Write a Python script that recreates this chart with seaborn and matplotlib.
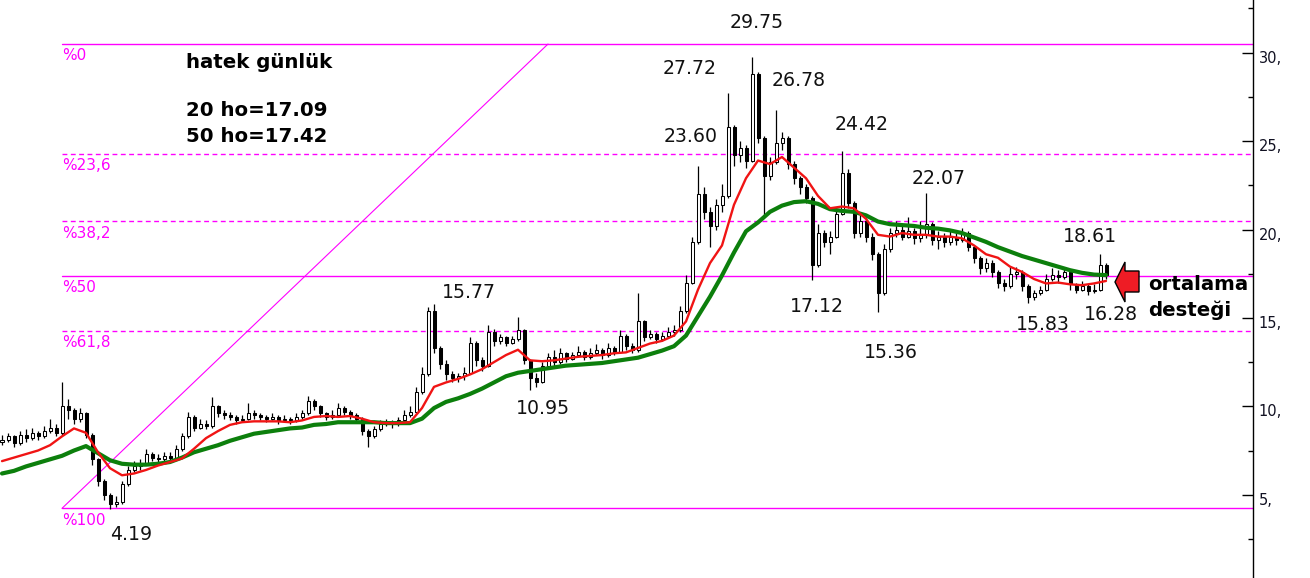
import numpy as np
import pandas as pd
import seaborn as sns
import matplotlib
matplotlib.use("Agg")
import matplotlib.pyplot as plt
from matplotlib.patches import Polygon
from matplotlib.transforms import ScaledTranslation

# ---------------- data ----------------
first_open = 8.0
closes = [
    8.1, 8.3, 7.9, 8.4, 8.2, 8.5, 8.3, 8.6, 8.8, 8.5,
    10.0, 9.8, 9.3, 9.6, 8.4, 7.0, 5.8, 5.0, 4.5, 4.6,
    5.6, 6.4, 6.6, 6.8, 7.3, 7.1, 7.0, 7.2, 7.1, 7.6,
    8.3, 9.4, 8.8, 9.0, 8.9, 10.0, 9.6, 9.5, 9.4, 9.2,
    9.3, 9.6, 9.5, 9.4, 9.3, 9.4, 9.2, 9.3, 9.2, 9.4,
    9.6, 10.3, 10.0, 9.6, 9.4, 9.5, 9.9, 9.7, 9.5, 9.3,
    8.6, 8.3, 8.7, 9.0, 9.1, 9.0, 9.2, 9.5, 9.7, 10.8,
    11.8, 15.4, 13.3, 12.4, 11.8, 11.6, 11.7, 11.9, 13.6, 12.6,
    12.3, 14.2, 13.7, 13.9, 13.6, 13.8, 14.3, 12.6, 11.6, 11.4,
    12.3, 12.8, 12.5, 13.0, 12.7, 12.9, 13.1, 12.8, 13.0, 13.2,
    12.9, 13.3, 13.1, 14.0, 13.4, 13.2, 14.8, 13.9, 14.1, 13.8,
    14.0, 14.2, 14.3, 15.4, 17.0, 19.3, 22.0, 21.0, 20.2, 21.4,
    21.9, 25.8, 24.2, 24.6, 23.9, 28.8, 25.2, 23.0, 23.8, 24.9,
    25.2, 23.7, 22.9, 22.4, 21.8, 18.0, 19.8, 19.3, 19.6, 20.9,
    23.2, 21.5, 19.8, 20.5, 19.6, 18.6, 16.4, 18.9, 19.8, 20.0,
    19.6, 19.9, 19.5, 19.7, 20.3, 19.4, 19.6, 19.3, 19.6, 19.4,
    19.8, 19.0, 18.4, 17.8, 18.1, 17.6, 17.0, 16.8, 17.5, 17.6,
    16.8, 16.2, 16.4, 16.6, 17.2, 17.4, 17.3, 17.6, 16.9, 16.6,
    16.8, 16.5, 16.6, 18.0, 17.4,
]
highs = [
    8.4, 8.5, 8.4, 8.6, 8.7, 8.8, 8.6, 8.9, 9.3, 9.0,
    11.4, 10.4, 9.9, 9.9, 9.7, 8.5, 7.1, 5.9, 5.1, 4.9,
    5.8, 6.6, 6.9, 7.0, 7.6, 7.4, 7.3, 7.4, 7.4, 7.8,
    8.5, 9.7, 9.5, 9.3, 9.2, 10.5, 10.1, 9.8, 9.7, 9.5,
    9.5, 10.2, 9.8, 9.6, 9.5, 9.6, 9.5, 9.5, 9.4, 9.6,
    9.8, 10.6, 10.4, 10.1, 9.7, 9.8, 10.2, 10.0, 9.8, 9.6,
    9.4, 8.7, 8.9, 9.2, 9.3, 9.2, 9.4, 9.8, 10.0, 11.1,
    12.2, 15.6, 15.77, 13.4, 12.6, 12.0, 11.9, 12.2, 13.9, 13.7,
    12.8, 14.6, 14.4, 14.1, 14.0, 14.0, 15.05, 14.4, 12.7, 11.9,
    12.5, 13.0, 13.2, 13.3, 13.1, 13.1, 13.4, 13.2, 13.3, 13.5,
    13.3, 13.6, 13.4, 14.3, 14.1, 13.6, 16.4, 14.9, 14.3, 14.2,
    14.2, 14.5, 14.6, 15.7, 17.4, 19.6, 23.6, 22.4, 21.3, 21.7,
    22.6, 27.72, 25.9, 25.0, 24.8, 29.75, 28.9, 25.3, 24.1, 26.78,
    25.5, 25.3, 23.9, 23.0, 22.6, 21.9, 20.3, 20.0, 19.9, 21.3,
    24.42, 23.4, 21.6, 20.9, 20.7, 19.8, 18.7, 19.2, 20.1, 20.5,
    20.3, 20.7, 20.1, 20.5, 22.07, 20.4, 19.9, 19.8, 19.9, 19.8,
    20.1, 19.9, 19.1, 18.5, 18.4, 18.3, 17.7, 17.2, 17.9, 17.9,
    17.7, 16.9, 16.6, 16.8, 17.5, 17.8, 17.7, 17.9, 17.7, 17.0,
    17.1, 16.9, 16.9, 18.61, 18.1,
]
lows = [
    7.8, 8.0, 7.7, 7.8, 8.0, 8.1, 8.1, 8.2, 8.5, 8.3,
    8.4, 9.3, 9.0, 9.1, 8.2, 6.7, 5.5, 4.7, 4.19, 4.3,
    4.5, 5.5, 6.3, 6.4, 6.7, 6.9, 6.8, 6.9, 6.9, 7.0,
    7.5, 8.2, 8.6, 8.7, 8.7, 8.8, 9.4, 9.3, 9.2, 9.0,
    9.1, 9.2, 9.3, 9.2, 9.1, 9.2, 9.0, 9.1, 9.0, 9.1,
    9.3, 9.5, 9.8, 9.4, 9.2, 9.3, 9.4, 9.5, 9.3, 9.1,
    8.4, 7.7, 8.2, 8.6, 8.9, 8.8, 8.9, 9.1, 9.4, 9.6,
    10.7, 11.7, 13.0, 12.1, 11.5, 11.4, 11.4, 11.5, 11.8, 12.3,
    12.0, 12.2, 13.4, 13.5, 13.4, 13.5, 13.7, 12.4, 10.95, 11.1,
    11.3, 12.2, 12.3, 12.4, 12.5, 12.6, 12.8, 12.6, 12.7, 12.9,
    12.7, 12.8, 12.9, 13.0, 13.2, 13.0, 13.1, 13.7, 13.8, 13.6,
    13.7, 13.9, 14.0, 14.2, 15.3, 16.9, 19.2, 20.6, 19.0, 20.0,
    21.0, 21.8, 23.6, 23.8, 23.5, 23.8, 24.9, 20.7, 22.8, 23.7,
    24.5, 23.4, 22.6, 22.0, 21.5, 17.12, 17.9, 19.0, 18.6, 19.5,
    20.8, 21.2, 19.5, 19.6, 19.3, 18.3, 15.36, 16.3, 18.7, 19.6,
    19.4, 19.5, 19.2, 19.3, 19.5, 19.1, 18.9, 19.0, 19.1, 19.1,
    19.3, 18.8, 18.1, 17.5, 17.6, 17.3, 16.7, 16.5, 16.7, 17.2,
    16.5, 15.83, 16.0, 16.3, 16.5, 17.1, 17.0, 17.2, 16.6, 16.4,
    16.5, 16.28, 16.4, 16.5, 17.2,
]
# moving averages read every 2nd bar (bar 0, 2, 4, ... 184)
ma_step = 2
ma20 = [
    6.9, 7.1, 7.3, 7.5, 7.8, 8.3, 8.75, 8.5, 7.4, 6.5,
    6.1, 6.2, 6.4, 6.65, 6.85, 7.05, 7.6, 8.2, 8.6, 8.95,
    9.1, 9.15, 9.15, 9.15, 9.1, 9.2, 9.4, 9.45, 9.4, 9.45,
    9.3, 9.1, 9.05, 9.05, 9.1, 9.9, 11.1, 11.35, 11.55, 11.8,
    12.1, 12.5, 12.9, 13.2, 12.6, 12.55, 12.6, 12.7, 12.8, 12.85,
    12.9, 13.0, 13.05, 13.3, 13.55, 13.7, 14.0, 14.8, 16.6, 18.1,
    19.1, 21.4, 22.9, 23.9, 23.7, 24.1, 23.5, 22.9, 21.9, 21.2,
    21.3, 21.2, 20.6, 19.7, 19.6, 19.8, 19.7, 19.7, 19.6, 19.6,
    19.5, 19.1, 18.6, 18.4, 17.9, 17.6, 17.2, 16.95, 17.0, 16.9,
    16.85, 16.95, 17.09,
]
ma50 = [
    6.2, 6.35, 6.6, 6.8, 7.0, 7.2, 7.5, 7.75, 7.35, 6.95,
    6.75, 6.7, 6.7, 6.75, 6.85, 7.1, 7.4, 7.6, 7.8, 8.05,
    8.25, 8.45, 8.55, 8.65, 8.75, 8.8, 8.95, 9.0, 9.1, 9.1,
    9.1, 9.1, 9.05, 9.05, 9.05, 9.3, 9.9, 10.25, 10.45, 10.7,
    11.0, 11.35, 11.7, 11.9, 12.0, 12.1, 12.2, 12.3, 12.35, 12.4,
    12.45, 12.55, 12.65, 12.75, 12.95, 13.15, 13.4, 14.0, 15.1, 16.2,
    17.4, 18.7, 19.9, 20.4, 21.0, 21.35, 21.55, 21.6, 21.45, 21.15,
    21.05, 21.0, 20.8, 20.45, 20.3, 20.25, 20.2, 20.1, 20.05, 19.95,
    19.8, 19.55, 19.3, 19.0, 18.75, 18.5, 18.3, 18.1, 17.9, 17.7,
    17.55, 17.45, 17.42,
]
fib_low, fib_high = 4.23, 30.49
fib_start_bar, fib_end_bar = 10, 91
fib_pcts = [0.0, 0.236, 0.382, 0.5, 0.618, 1.0]
fib_labels = ["%0", "%23,6", "%38,2", "%50", "%61,8", "%100"]
yticks = [5, 10, 15, 20, 25, 30]
ytick_labels = ["5,", "10,", "15,", "20,", "25,", "30,"]
peak_labels = ["29.75", "27.72", "26.78", "23.60", "24.42", "22.07", "18.61",
               "15.77", "10.95", "17.12", "15.36", "15.83", "16.28", "4.19"]

# ---------------- figure ----------------
sns.set_theme(style="white")
plt.rcParams["font.family"] = ["DejaVu Sans"]
W, H = 1310, 578
fig = plt.figure(figsize=(W / 100, H / 100), dpi=100)
fig.patch.set_facecolor("white")
ax = fig.add_axes([0, 0, 1253 / W, 1])
ax.set_facecolor("white")

n = len(closes)
idx = np.arange(n)
opens = np.array([first_open] + closes[:-1])
c = np.array(closes)
df = pd.DataFrame({"bar": idx, "open": opens, "close": c,
                   "high": highs, "low": lows})

# wicks
ax.vlines(df["bar"], df["low"], df["high"], color="black", lw=0.9, zorder=2)
# bodies
up = df["close"] >= df["open"]
bot = np.minimum(df["open"], df["close"])
hgt = np.abs(df["close"] - df["open"]).clip(lower=0.02)
ax.bar(df["bar"][up], hgt[up], bottom=bot[up], width=0.5, color="white",
       edgecolor="black", linewidth=0.75, zorder=3)
ax.bar(df["bar"][~up], hgt[~up], bottom=bot[~up], width=0.5, color="black",
       edgecolor="black", linewidth=0.75, zorder=3)

# moving averages
ma_bars = np.arange(0, n, ma_step)
ma_df = pd.DataFrame({"bar": ma_bars, "ma20": ma20, "ma50": ma50})
sns.lineplot(data=ma_df, x="bar", y="ma50", color="#0c7f0c", lw=3.0, ax=ax,
             zorder=4)
sns.lineplot(data=ma_df, x="bar", y="ma20", color="#f01414", lw=1.7, ax=ax,
             zorder=5)

# axis limits so that bars land at the same pixels as the reference
x0_px, dx_px = 2.0, 6.0
xmin = -x0_px / dx_px
xmax = (1253 - x0_px) / dx_px
ax.set_xlim(xmin, xmax)
ax.set_ylim(0.29, 32.98)

# fibonacci levels
mag = "#ff00ff"
for p, lab in zip(fib_pcts, fib_labels):
    lvl = fib_high - p * (fib_high - fib_low)
    ls = "-" if p in (0.0, 0.5, 1.0) else (0, (3.5, 2.5))
    ax.plot([fib_start_bar, xmax], [lvl, lvl], color=mag, lw=1.0, ls=ls,
            zorder=1)
    ax.annotate(lab, xy=(fib_start_bar, lvl), xytext=(0, -3),
                textcoords="offset points", ha="left", va="top",
                color=mag, fontsize=11)
ax.plot([fib_start_bar, fib_end_bar], [fib_low, fib_high], color=mag, lw=0.8,
        zorder=1)

# axis styling
for s in ["left", "top", "bottom"]:
    ax.spines[s].set_visible(False)
ax.spines["right"].set_visible(True)
ax.spines["right"].set_color("black")
ax.spines["right"].set_linewidth(1.0)
ax.set_xticks([])
ax.yaxis.tick_right()
ax.set_yticks(yticks)
ax.set_yticklabels(ytick_labels)
ax.set_yticks(np.arange(2.5, 33, 5), minor=True)
ax.tick_params(axis="y", which="major", direction="in", length=8, width=1,
               pad=4, labelsize=10.5, labelcolor="#111122", color="black",
               right=True, left=False)
ax.tick_params(axis="y", which="minor", direction="in", length=3.5, width=1,
               color="black", right=True, left=False)
off = ScaledTranslation(0, -4 / 100, fig.dpi_scale_trans)
for lab in ax.get_yticklabels():
    lab.set_transform(lab.get_transform() + off)
ax.set_xlabel("")
ax.set_ylabel("")
ax.grid(False)


def ftext(x, y, s, **kw):
    fig.text(x / W, 1 - y / H, s, **kw)


# peak / trough labels
label_pos = [(757, 22), (690, 69), (799, 80), (691, 136), (862, 125),
             (939, 179), (1090, 236), (469, 292), (543, 408), (817, 306),
             (891, 352), (1043, 324), (1111, 314), (131, 535)]
for s, (x, y) in zip(peak_labels, label_pos):
    ftext(x, y, s, ha="center", va="center", fontsize=13.6, color="#111111")

# title block
ftext(186, 62, "hatek günlük", ha="left", va="center", fontsize=14.2,
      fontweight="bold", color="black")
ftext(186, 110, "20 ho=17.09", ha="left", va="center", fontsize=14.2,
      fontweight="bold", color="black")
ftext(186, 137, "50 ho=17.42", ha="left", va="center", fontsize=14.2,
      fontweight="bold", color="black")
ftext(1148, 284, "ortalama", ha="left", va="center", fontsize=14.2,
      fontweight="bold", color="black")
ftext(1148, 310, "desteği", ha="left", va="center", fontsize=14.2,
      fontweight="bold", color="black")

# arrow
arrow_px = [(1115, 282), (1125, 262), (1125, 271), (1139, 271), (1139, 292),
            (1125, 292), (1125, 302)]
pts = [(x / W, 1 - y / H) for x, y in arrow_px]
fig.patches.append(Polygon(pts, closed=True, facecolor="#ee1c25",
                           edgecolor="black", lw=1.0,
                           transform=fig.transFigure, figure=fig))

fig.savefig("out.png", dpi=100, facecolor="white")
